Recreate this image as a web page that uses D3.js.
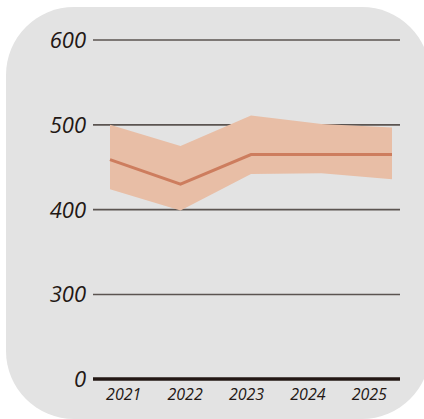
<!DOCTYPE html>
<html><head><meta charset="utf-8">
<script src="https://cdn.jsdelivr.net/npm/d3@7"></script>
<style>html,body{margin:0;padding:0;background:#fff;}svg{display:block;}</style>
</head><body>
<script>
const years = ["2021","2022","2023","2024","2025"];
const meanValues = [459, 430, 465, 465, 465];
const upperValues = [500, 475, 511, 501, 497];
const lowerValues = [424, 399, 442, 443, 436];
const yTicks = [0, 300, 400, 500, 600];

const W = 424, H = 419;
const svg = d3.select("body").append("svg").attr("width", W).attr("height", H);

svg.append("rect").attr("x", 6).attr("y", 7).attr("width", 424).attr("height", 412)
  .attr("rx", 68).attr("ry", 68).attr("fill", "#e3e3e3");

// broken axis: 0 sits where 200 would be
const y = d3.scaleLinear().domain([0, 300, 600]).range([379, 294.5, 40]);
const xBand = d3.scaleBand().domain(years).range([93, 400]);
const xPt = d3.scalePoint().domain(years).range([110, 392]);

const data = years.map((yr, i) => ({yr, m: meanValues[i], hi: upperValues[i], lo: lowerValues[i]}));

// grid lines
svg.append("g").selectAll("line").data(yTicks.filter(t => t !== 0)).join("line")
  .attr("x1", 93).attr("x2", 400)
  .attr("y1", d => y(d)).attr("y2", d => y(d))
  .attr("stroke", "#5b5451").attr("stroke-width", 1.6);

// band
svg.append("path").datum(data)
  .attr("d", d3.area().x(d => xPt(d.yr)).y0(d => y(d.lo)).y1(d => y(d.hi)))
  .attr("fill", "#e8bea6");

// mean line
svg.append("path").datum(data)
  .attr("d", d3.line().x(d => xPt(d.yr)).y(d => y(d.m)))
  .attr("fill", "none").attr("stroke", "#cd7d5e").attr("stroke-width", 3);

// baseline
svg.append("line").attr("x1", 93).attr("x2", 400).attr("y1", y(0)).attr("y2", y(0))
  .attr("stroke", "#231815").attr("stroke-width", 3.6);

// y tick labels
svg.append("g").selectAll("text").data(yTicks).join("text")
  .attr("x", 86).attr("y", d => y(d)).attr("dy", "0.36em")
  .attr("text-anchor", "end")
  .attr("font-family", "'Open Sans', sans-serif").attr("font-style", "italic")
  .attr("font-size", 22).attr("fill", "#231815")
  .text(d => d);

// x labels
svg.append("g").selectAll("text").data(years).join("text")
  .attr("x", d => xBand(d) + xBand.bandwidth() / 2).attr("y", 400)
  .attr("text-anchor", "middle")
  .attr("font-family", "'Open Sans', sans-serif").attr("font-style", "italic")
  .attr("font-size", 16).attr("fill", "#231815")
  .text(d => d);
</script>
</body></html>
